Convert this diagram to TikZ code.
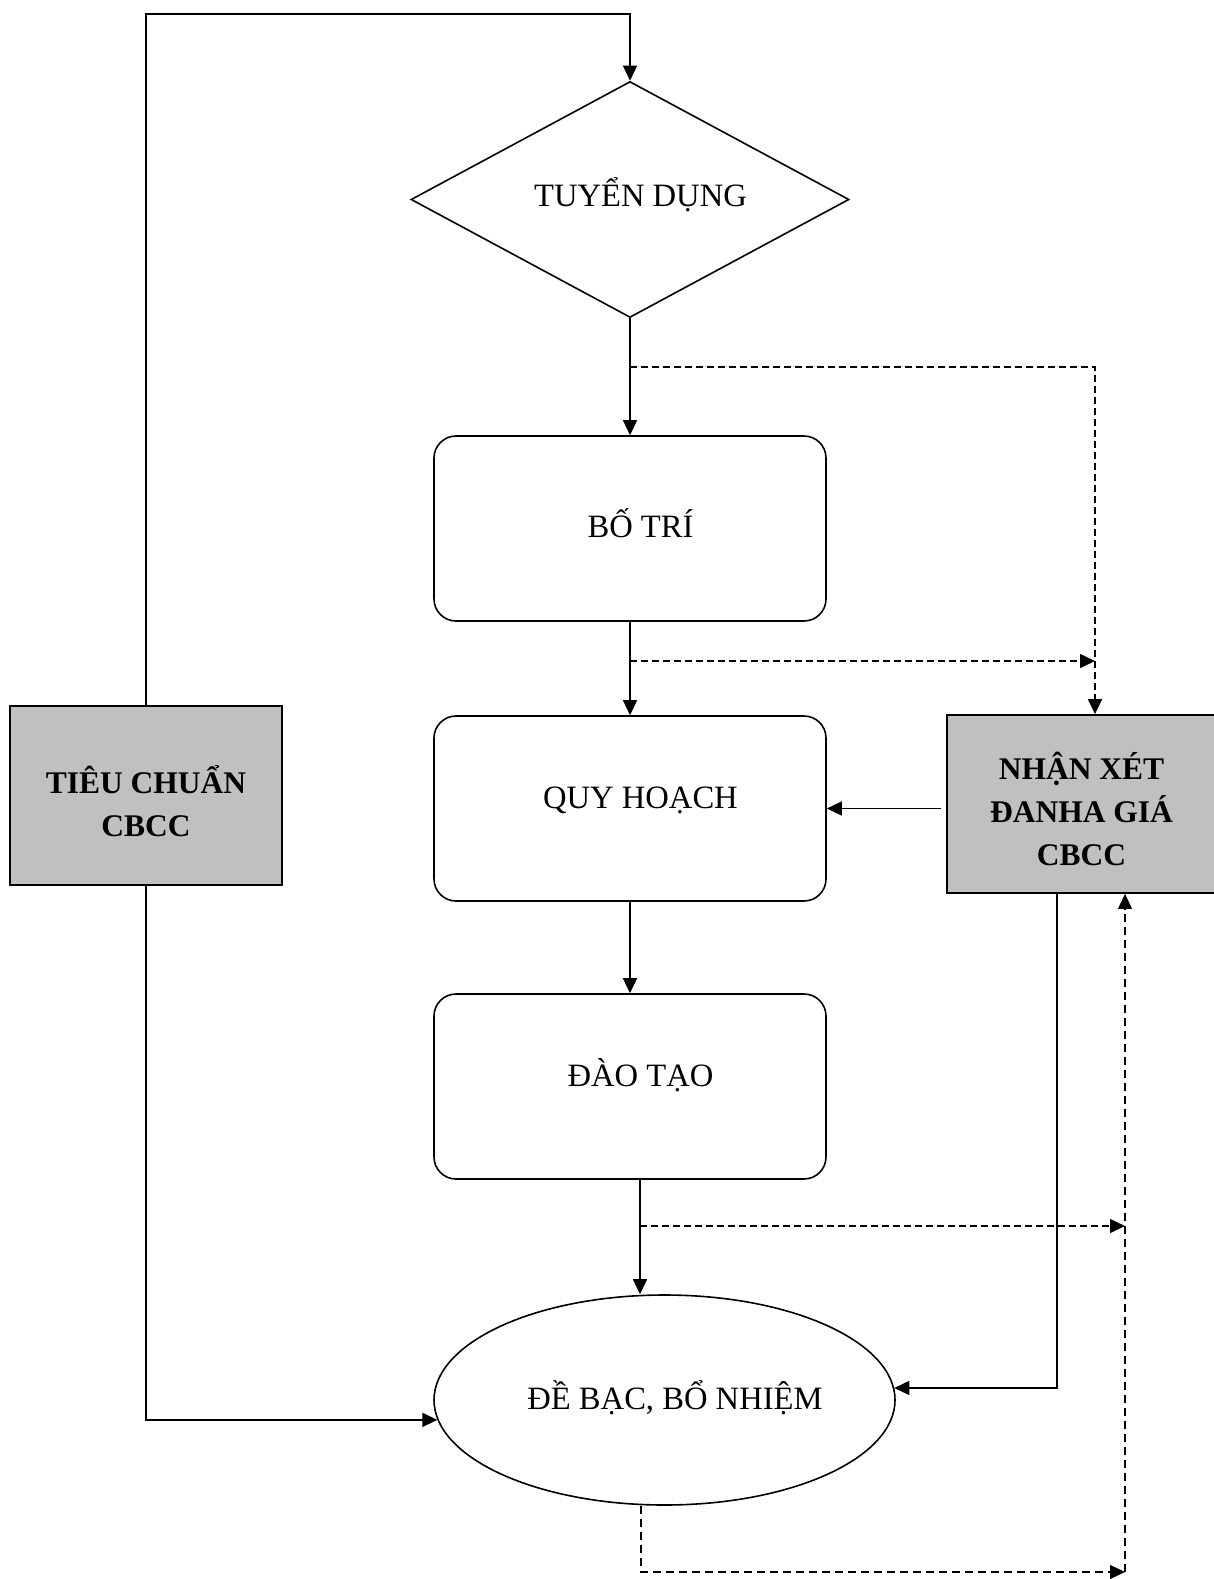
\documentclass[tikz,border=0pt]{standalone}
\usepackage{fontspec}
\setmainfont{Liberation Serif}
\usetikzlibrary{shapes.geometric,arrows.meta,calc}

\definecolor{boxgrey}{HTML}{C0C0C0}
\tikzset{
  label font/.style={font=\fontsize{32.6}{40}\selectfont, text height=22pt},
  shifted/.style={execute at begin node={\hspace*{21pt}}},
  stage/.style={draw, line width=1.6pt, rounded corners=22pt, minimum width=392pt, minimum height=185pt, label font, shifted},
  greybox/.style={draw, line width=1.8pt, fill=boxgrey, align=center, text depth=0pt, font=\fontsize{31.5}{43}\selectfont\bfseries},
  arr/.style={line width=1.5pt, -{Triangle[length=15pt,width=14pt]}},
  dasharr/.style={arr, dash pattern=on 7pt off 4pt},
  thindash/.style={line width=1.1pt, dash pattern=on 8pt off 5pt, -{Triangle[length=15pt,width=14pt]}},
}

\begin{document}
\begin{tikzpicture}[x=1pt, y=-1pt]
\useasboundingbox (0,0) rectangle (1213,1579);

% the steps down the middle
\node[diamond, draw, line width=1.6pt, aspect=1.86, minimum width=438pt, minimum height=236pt, inner sep=0pt, label font, shifted, text depth=7.6pt] (tuyen) at (630,199.5) {TUYỂN DỤNG};
\node[stage, text depth=4.6pt] (botri) at (630,528.5) {BỐ TRÍ};
\node[stage, text depth=22.6pt] (quyhoach) at (630,808.5) {QUY HOẠCH};
\node[stage, text depth=22.6pt] (daotao) at (630,1086.5) {ĐÀO TẠO};
\node[ellipse, draw, line width=1.6pt, minimum width=461pt, minimum height=210pt, inner sep=0pt, label font, shifted, text depth=2.6pt] (debac) at (664.5,1400) {ĐỀ BẠC, BỔ NHIỆM};

% grey boxes
\node[greybox, minimum width=272pt, minimum height=179pt, text height=82.8pt] (tieuchuan) at (146,795.5) {TIÊU CHUẨN\\CBCC};
\node[greybox, minimum width=269pt, minimum height=178pt, text height=123.8pt] (nhanxet) at (1081.5,804) {NHẬN XÉT\\ĐANHA GIÁ\\CBCC};

\coordinate (topc) at (630,14);
\coordinate (c1) at (630,367);
\coordinate (c2) at (630,661);
\coordinate (c3) at (640,1226);
\coordinate (bottom) at (0,1572);
\coordinate (colA) at (1095,0);
\coordinate (colB) at (1125,0);
\coordinate (colC) at (1057,0);
\coordinate (colD) at (640,0);
\coordinate (colE) at (641,0);

% solid flow
\draw[arr] (tieuchuan.north) |- (topc) -- (tuyen.north);
\draw[arr] (tuyen.south) -- (botri.north);
\draw[arr] (botri.south) -- (quyhoach.north);
\draw[arr] (quyhoach.south) -- (daotao.north);
\draw[arr] (colD |- daotao.south) -- (colD |- debac.north);
\draw[arr, shorten <=5pt] (nhanxet.west |- quyhoach.east) -- (quyhoach.east);
\draw[arr] (colC |- nhanxet.south) |- (debac.3);
\draw[arr] (tieuchuan.south) |- (debac.185);

% dashed feedback
\draw[dasharr] (c1) -| (colA |- nhanxet.north);
\draw[dasharr] (c2) -- (colA |- c2);
\draw[dasharr] (c3) -- (colB |- c3);
\draw[thindash] (colB |- bottom) -- (colB |- nhanxet.south);
\draw[thindash] (colE |- debac.south) |- (colB |- bottom);
\end{tikzpicture}
\end{document}
